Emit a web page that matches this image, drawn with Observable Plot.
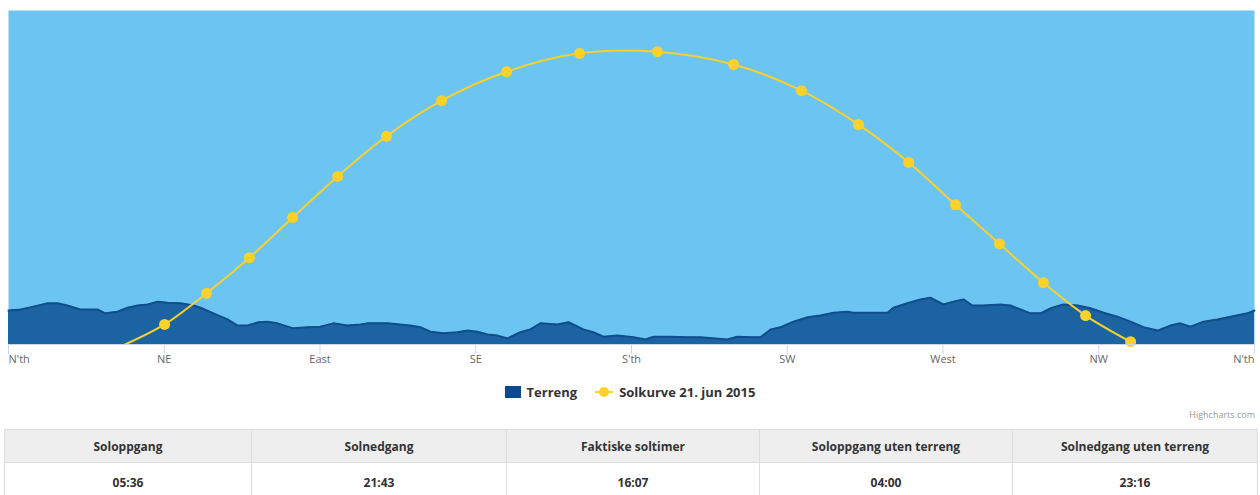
<!DOCTYPE html>
<html>
<head>
<meta charset="utf-8">
<script src="https://cdn.jsdelivr.net/npm/d3@7"></script>
<script src="https://cdn.jsdelivr.net/npm/@observablehq/plot@0.6"></script>
<style>
  html, body { margin: 0; padding: 0; background: #fff; width: 1260px; height: 495px; overflow: hidden; font-family: "Open Sans", sans-serif; }
  #chart { position: absolute; left: 0; top: 0; }
  #legend { position: absolute; top: 383px; left: 0; width: 1260px; display: flex; justify-content: center; align-items: center; font-size: 13px; font-weight: bold; color: #333; }
  .li { display: flex; align-items: center; margin: 0 9px; }
  .sq { width: 16px; height: 12px; background: #0b4a8e; margin-right: 6px; }
  .sun { position: relative; width: 18px; height: 12px; margin-right: 6px; }
  .sun .ln { position: absolute; left: 0; top: 5px; width: 18px; height: 2px; background: #fcd22a; }
  .sun .dt { position: absolute; left: 4px; top: 1px; width: 10px; height: 10px; border-radius: 50%; background: #fcd22a; }
  #credit { position: absolute; top: 408px; right: 5px; font-size: 9px; color: #999; }
  table { position: absolute; top: 429px; left: 4px; width: 1253px; border-collapse: collapse; table-layout: fixed; font-size: 12px; color: #333; }
  th, td { border: 1px solid #ddd; text-align: center; font-weight: bold; }
  th { background: #eeeeee; height: 32px; padding: 0; }
  td { height: 38px; padding: 0; background: #fff; }
</style>
</head>
<body>
<div id="chart"></div>
<div id="legend">
  <div class="li"><div class="sq"></div><span>Terreng</span></div>
  <div class="li"><div class="sun"><div class="ln"></div><div class="dt"></div></div><span>Solkurve 21. jun 2015</span></div>
</div>
<div id="credit">Highcharts.com</div>
<table id="tbl">
  <colgroup><col style="width:247px"><col style="width:255px"><col style="width:253px"><col style="width:253px"><col style="width:245px"></colgroup>
  <thead><tr id="hdr"></tr></thead><tbody><tr id="vals"></tr></tbody>
</table>
<script>
// Axis ticks (azimuth degrees) and labels
const azimuthTicks = [0, 45, 90, 135, 180, 225, 270, 315, 360];
const tickLabels = ["N'th", "NE", "East", "SE", "S'th", "SW", "West", "NW", "N'th"];

// Terrain horizon: azimuth (deg) and elevation (deg)
const terrainAz = [0, 3.5, 7.2, 11.3, 14.2, 17.0, 20.8, 25.7, 28.0, 31.5, 34.4, 37.3, 40.2, 43.1, 45.9, 49.7, 53.5, 55.5, 59.2, 63.3, 66.2, 69.1, 72.2, 74.8, 77.7, 82.3, 86.4, 90.1, 93.9, 97.9, 101.7, 104.0, 109.5, 116.1, 119.0, 121.9, 125.7, 129.7, 132.6, 135.5, 138.4, 141.3, 144.2, 147.9, 150.8, 153.7, 158.6, 161.8, 166.1, 169.0, 171.9, 175.9, 180.6, 184.0, 186.4, 191.3, 196.2, 199.9, 207.7, 210.6, 215.3, 217.3, 220.2, 223.1, 226.8, 230.9, 234.6, 238.4, 242.4, 244.1, 249.9, 254.0, 255.7, 259.7, 263.5, 266.4, 270.1, 273.0, 275.9, 278.5, 281.7, 286.6, 289.5, 292.4, 295.3, 298.2, 301.1, 304.8, 308.9, 312.6, 316.4, 320.4, 324.2, 327.9, 332.0, 335.7, 338.6, 341.5, 345.3, 349.3, 353.1, 358.0, 360];
const terrainEl = [6.1, 6.3, 6.8, 7.4, 7.4, 7.0, 6.3, 6.3, 5.6, 5.9, 6.6, 7.0, 7.2, 7.7, 7.5, 7.4, 7.0, 6.6, 5.6, 4.5, 3.4, 3.4, 4.0, 4.1, 3.8, 2.9, 3.1, 3.2, 3.8, 3.4, 3.6, 3.8, 3.8, 3.4, 3.1, 2.3, 2.0, 2.2, 2.5, 2.3, 1.8, 1.6, 1.1, 2.2, 2.7, 3.8, 3.6, 4.0, 2.7, 2.2, 1.4, 1.6, 1.3, 0.9, 1.4, 1.4, 1.3, 1.3, 0.9, 1.4, 1.3, 1.3, 2.7, 3.1, 4.1, 4.9, 5.2, 5.7, 5.9, 5.7, 5.7, 5.7, 6.6, 7.4, 8.1, 8.4, 7.2, 7.7, 8.1, 7.0, 7.0, 7.2, 7.0, 6.3, 5.6, 5.6, 6.5, 7.2, 7.0, 6.5, 5.7, 5.0, 4.1, 3.1, 2.5, 3.4, 3.8, 3.2, 4.1, 4.5, 5.0, 5.6, 6.1];

// Sun curve 21 June 2015, hourly: azimuth (deg) and elevation (deg)
const sunAz = [32.6, 45.1, 57.2, 69.6, 82.1, 95.1, 109.2, 125.1, 143.9, 165.0, 187.5, 209.5, 229.1, 245.6, 260.1, 273.6, 286.3, 299.0, 311.2, 324.2];
const sunEl = [-0.3, 3.6, 9.2, 15.6, 22.8, 30.2, 37.4, 43.8, 49.0, 52.3, 52.6, 50.3, 45.6, 39.5, 32.7, 25.1, 18.1, 11.1, 5.2, 0.5];

// Table
const tableHeaders = ["Soloppgang", "Solnedgang", "Faktiske soltimer", "Soloppgang uten terreng", "Solnedgang uten terreng"];
const tableValues = ["05:36", "21:43", "16:07", "04:00", "23:16"];

const terrain = terrainAz.map((az, i) => ({az, el: terrainEl[i]}));
const sun = sunAz.map((az, i) => ({az, el: sunEl[i]}));
const ticks = azimuthTicks.map((az, i) => ({az, label: tickLabels[i]}));

const chart = Plot.plot({
  width: 1260,
  height: 375,
  marginLeft: 8,
  marginRight: 6,
  marginTop: 10,
  marginBottom: 31,
  x: {domain: [0, 360]},
  y: {domain: [0, 60], axis: null},
  style: {background: "transparent", fontFamily: "Open Sans, sans-serif"},
  marks: [
    Plot.frame({fill: "#6cc4f0", stroke: null}),
    Plot.areaY(terrain, {x: "az", y: "el", fill: "#1c63a2"}),
    Plot.lineY(terrain, {x: "az", y: "el", stroke: "#0f4d8c", strokeWidth: 2}),
    Plot.line(sun, {x: "az", y: "el", stroke: "#f8d12d", strokeWidth: 2, curve: "catmull-rom", clip: true}),
    Plot.dot(sun.filter(d => d.el >= 0), {x: "az", y: "el", r: 5.5, fill: "#fcd22a", stroke: null}),
    Plot.ruleY([0], {stroke: "#ccd6eb", strokeWidth: 1}),
    Plot.axisX({ticks: azimuthTicks, tickSize: 10, tickFormat: () => "", stroke: "#ccd6eb", strokeOpacity: 1, label: null}),
    Plot.text(ticks.slice(0, 1), {x: "az", y: 0, text: "label", dy: 15, textAnchor: "start", fill: "#666", fontSize: 11}),
    Plot.text(ticks.slice(1, -1), {x: "az", y: 0, text: "label", dy: 15, textAnchor: "middle", fill: "#666", fontSize: 11}),
    Plot.text(ticks.slice(-1), {x: "az", y: 0, text: "label", dy: 15, textAnchor: "end", fill: "#666", fontSize: 11})
  ]
});
document.getElementById("chart").appendChild(chart);

const hdr = document.getElementById("hdr");
tableHeaders.forEach(h => { const th = document.createElement("th"); th.textContent = h; hdr.appendChild(th); });
const vals = document.getElementById("vals");
tableValues.forEach(v => { const td = document.createElement("td"); td.textContent = v; vals.appendChild(td); });
</script>
</body>
</html>
